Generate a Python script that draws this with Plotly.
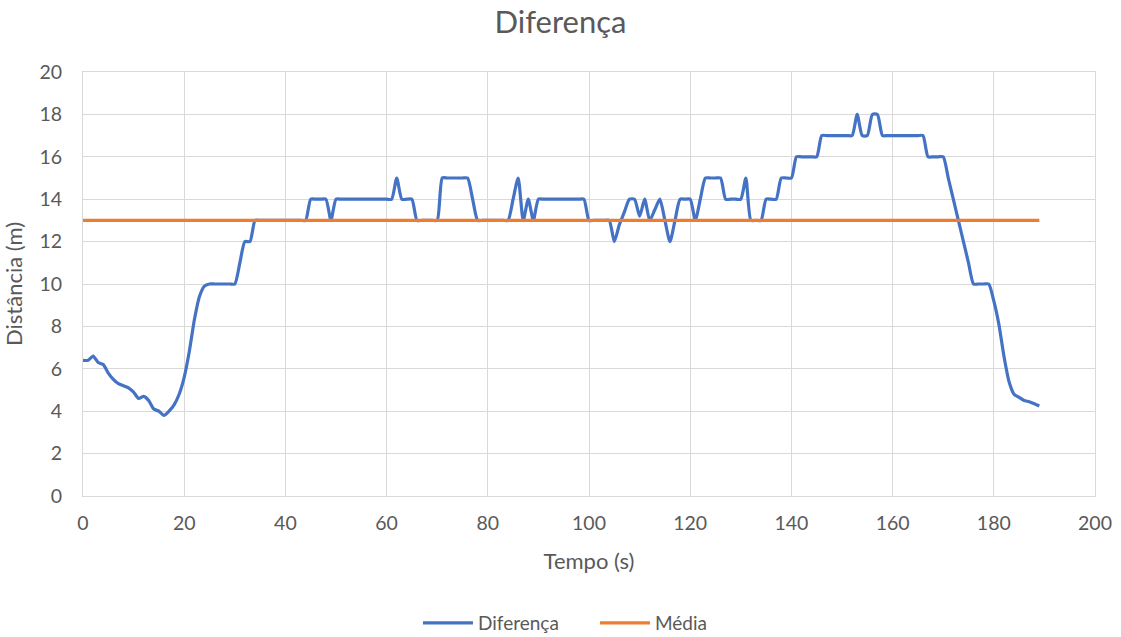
import plotly.graph_objects as go

tempo = list(range(0, 190))

diferenca = [
    6.4, 6.4, 6.6, 6.3, 6.2, 5.8, 5.5, 5.3, 5.2, 5.1,      # 0-9
    4.9, 4.6, 4.7, 4.5, 4.1, 4.0, 3.8, 4.0, 4.3, 4.8,      # 10-19
    5.6, 6.8, 8.3, 9.4, 9.9, 10, 10, 10, 10, 10,           # 20-29
    10, 11, 12, 12, 13, 13, 13, 13, 13, 13,                # 30-39
    13, 13, 13, 13, 13, 14, 14, 14, 14, 13,                # 40-49
    14, 14, 14, 14, 14, 14, 14, 14, 14, 14,                # 50-59
    14, 14, 15, 14, 14, 14, 13, 13, 13, 13,                # 60-69
    13, 15, 15, 15, 15, 15, 15, 14, 13, 13,                # 70-79
    13, 13, 13, 13, 13, 14, 15, 13, 14, 13,                # 80-89
    14, 14, 14, 14, 14, 14, 14, 14, 14, 14,                # 90-99
    13, 13, 13, 13, 13, 12, 12.8, 13.4, 14, 14,            # 100-109
    13.2, 14, 13, 13.5, 14, 13, 12, 13, 14, 14,            # 110-119
    14, 13, 14, 15, 15, 15, 15, 14, 14, 14,                # 120-129
    14, 15, 13, 13, 13, 14, 14, 14, 15, 15,                # 130-139
    15, 16, 16, 16, 16, 16, 17, 17, 17, 17,                # 140-149
    17, 17, 17, 18, 17, 17, 18, 18, 17, 17,                # 150-159
    17, 17, 17, 17, 17, 17, 17, 16, 16, 16,                # 160-169
    16, 15, 14, 13, 12, 11, 10, 10, 10, 10,                # 170-179
    9.2, 8.1, 6.6, 5.4, 4.8, 4.65, 4.5, 4.45, 4.35, 4.25,  # 180-189
]

media_valor = 13.0
media = [media_valor for _ in tempo]

x_ticks = [0, 20, 40, 60, 80, 100, 120, 140, 160, 180, 200]
y_ticks = [0, 2, 4, 6, 8, 10, 12, 14, 16, 18, 20]

FONT = "Lato"
GREY = "#595959"
GRID = "#D9D9D9"

fig = go.Figure()
fig.add_trace(go.Scatter(
    x=tempo, y=diferenca, mode="lines", name="Diferença",
    line=dict(color="#4472C4", width=3.2, shape="spline", smoothing=0.6),
))
fig.add_trace(go.Scatter(
    x=tempo, y=media, mode="lines", name="Média",
    line=dict(color="#ED7D31", width=3.2),
))

fig.update_layout(
    width=1121, height=637,
    paper_bgcolor="white", plot_bgcolor="white",
    margin=dict(l=83, r=26, t=72, b=141, autoexpand=False),
    title=dict(text="Diferença", x=0.5, xanchor="center",
               yref="container", y=0.965, yanchor="middle",
               font=dict(family=FONT, size=31, color=GREY)),
    font=dict(family=FONT, color=GREY),
    showlegend=True,
    legend=dict(orientation="h", x=0.331, xanchor="left",
                yref="container", y=0.022, yanchor="middle",
                font=dict(family=FONT, size=19, color=GREY), itemwidth=50,
                entrywidth=112, entrywidthmode="pixels",
                traceorder="normal"),
)
fig.update_xaxes(
    range=[0, 200], tickvals=x_ticks, ticktext=[str(v) for v in x_ticks],
    showgrid=True, gridcolor=GRID, gridwidth=1, zeroline=False,
    showline=True, linecolor=GRID, linewidth=1, mirror=True,
    ticks="", ticklabelstandoff=10, automargin=False,
    tickfont=dict(family=FONT, size=19.5, color=GREY),
    title=dict(text="Tempo (s)", font=dict(family=FONT, size=22, color=GREY), standoff=20),
)
fig.update_yaxes(
    range=[0, 20], tickvals=y_ticks, ticktext=[str(v) for v in y_ticks],
    showgrid=True, gridcolor=GRID, gridwidth=1, zeroline=False,
    showline=True, linecolor=GRID, linewidth=1, mirror=True,
    ticks="", ticklabelstandoff=16, automargin=False,
    tickfont=dict(family=FONT, size=19.5, color=GREY),
    title=dict(text="Distância (m)", font=dict(family=FONT, size=22, color=GREY), standoff=11),
)

fig.write_html("out.html")
